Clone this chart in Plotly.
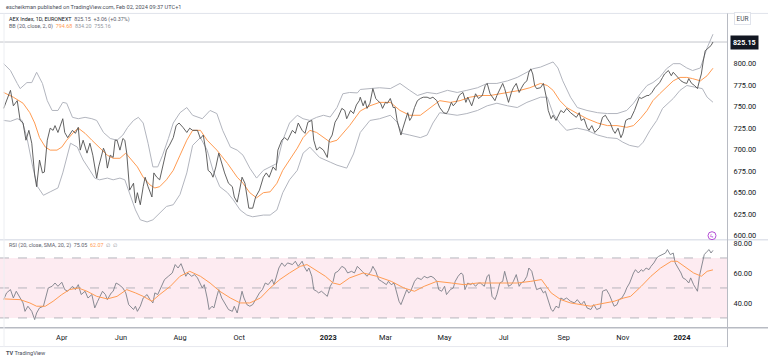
import plotly.graph_objects as go

# ---------------- DATA ----------------
close_dates = ["2022-01-31","2022-02-07","2022-02-10","2022-02-14","2022-02-17","2022-02-20","2022-02-23","2022-02-26",
"2022-03-01","2022-03-04","2022-03-06","2022-03-09","2022-03-12","2022-03-14","2022-03-17","2022-03-20","2022-03-23",
"2022-03-25","2022-03-28","2022-04-01","2022-04-02","2022-04-04","2022-04-07","2022-04-12","2022-04-15","2022-04-18",
"2022-04-20","2022-04-23","2022-04-27","2022-04-30","2022-05-03","2022-05-07","2022-05-09","2022-05-14","2022-05-16",
"2022-05-18","2022-05-21","2022-05-24","2022-05-26","2022-05-28","2022-05-31","2022-06-03","2022-06-05","2022-06-07",
"2022-06-10","2022-06-14","2022-06-16","2022-06-18","2022-06-21","2022-06-24","2022-06-26","2022-06-29","2022-07-03",
"2022-07-05","2022-07-08","2022-07-11","2022-07-14","2022-07-18","2022-07-21","2022-07-25","2022-07-28","2022-07-31",
"2022-08-04","2022-08-08","2022-08-11","2022-08-14","2022-08-19","2022-08-22","2022-08-25","2022-08-28","2022-08-30",
"2022-09-02","2022-09-04","2022-09-07","2022-09-10","2022-09-13","2022-09-16","2022-09-20","2022-09-24","2022-09-26",
"2022-09-29","2022-10-01","2022-10-04","2022-10-07","2022-10-09","2022-10-11","2022-10-15","2022-10-18","2022-10-22",
"2022-10-26","2022-10-29","2022-11-01","2022-11-05","2022-11-08","2022-11-10","2022-11-14","2022-11-17","2022-11-20",
"2022-11-25","2022-11-28","2022-12-01","2022-12-05","2022-12-08","2022-12-11","2022-12-15","2022-12-17","2022-12-20",
"2022-12-23","2022-12-27","2022-12-31","2023-01-02","2023-01-05","2023-01-08","2023-01-11","2023-01-15","2023-01-18",
"2023-01-20","2023-01-24","2023-01-27","2023-01-30","2023-02-02","2023-02-03","2023-02-06","2023-02-08","2023-02-10",
"2023-02-13","2023-02-16","2023-02-19","2023-02-21","2023-02-24","2023-02-26","2023-03-01","2023-03-03","2023-03-06",
"2023-03-09","2023-03-11","2023-03-13","2023-03-15","2023-03-17","2023-03-19","2023-03-22","2023-03-24","2023-03-26",
"2023-03-28","2023-03-31","2023-04-03","2023-04-06","2023-04-09","2023-04-13","2023-04-16","2023-04-19","2023-04-23",
"2023-04-26","2023-04-30","2023-05-03","2023-05-05","2023-05-08","2023-05-10","2023-05-13","2023-05-16","2023-05-18",
"2023-05-20","2023-05-23","2023-05-25","2023-05-29","2023-06-02","2023-06-05","2023-06-09","2023-06-12","2023-06-14",
"2023-06-17","2023-06-20","2023-06-22","2023-06-24","2023-06-27","2023-06-30","2023-07-02","2023-07-06","2023-07-09",
"2023-07-11","2023-07-14","2023-07-17","2023-07-19","2023-07-22","2023-07-25","2023-07-27","2023-07-29","2023-07-31",
"2023-08-02","2023-08-04","2023-08-08","2023-08-11","2023-08-14","2023-08-16","2023-08-19","2023-08-21","2023-08-24",
"2023-08-27","2023-08-29","2023-09-01","2023-09-04","2023-09-08","2023-09-11","2023-09-14","2023-09-17","2023-09-19",
"2023-09-22","2023-09-25","2023-09-27","2023-09-30","2023-10-03","2023-10-05","2023-10-08","2023-10-11","2023-10-14",
"2023-10-16","2023-10-19","2023-10-22","2023-10-24","2023-10-27","2023-10-30","2023-11-01","2023-11-04","2023-11-07",
"2023-11-09","2023-11-13","2023-11-16","2023-11-18","2023-11-20","2023-11-23","2023-11-26","2023-11-28","2023-12-01",
"2023-12-04","2023-12-06","2023-12-09","2023-12-12","2023-12-14","2023-12-18","2023-12-21","2023-12-23","2023-12-26",
"2023-12-29","2023-12-31","2024-01-03","2024-01-06","2024-01-08","2024-01-11","2024-01-14","2024-01-17","2024-01-19",
"2024-01-21","2024-01-23","2024-01-25","2024-01-27","2024-01-29","2024-01-31","2024-02-02"]
close_vals = [748,769,751,757,734,731,711,722.5,
707.5,670.5,657,688,673,674,711,725,722.5,
728,720,734,736,720,714,722.5,719,726,
699.5,711,696,707.5,693.6,667,680,701.7,696,
678.6,693.6,691,711,711,699.5,713,711,696,
653,661,638,650,636,657,668,657,645,
673,668,665,680,699.5,705,714,728,731,
726,720,725,722.5,722.5,713,717,696,676,
673,668,680,696,684,673,661,657,645,
639,650,668,661,645,632,632,645,653,
668,673,668,680,676,699.5,711,714,711,
722.5,719,731,722.5,719,732,734,711,699.5,
703,699.5,691,711,717,732,737.6,748,745.6,
736,745.6,742,752,757,761,751,757,748,
754,771,759.5,757,754,748,755,754,759.5,
749,749,734,725,717,725,737.6,743,734,
737.6,749,757,759.5,761,761,759.5,761,757,
749,743,742,745.6,755,751,755,763,765,
766.5,755,761,751,765,759.5,763,774.6,777,
765,759.5,757,763,771,777,771,755,766.5,
772,777,766.5,771,777,780,790,794,788,
774.6,771,772,777,761,745.6,736,740,734,
740,745.6,743,748,743,740,737.6,743,734,
736,726,722.5,728,720,722.5,726,737.6,740,
736,731,722.5,719,725,714,719,734,736,
736,745.6,755,761,759.5,761,763,763,766.5,
772,774.6,778,784,788,792,786,790,786,
782.6,780,778,777,782.6,777,774.6,771,780,
788,803,815,817,818.5,821,825.15]

bb_upper_dates = ["2022-01-31","2022-02-07","2022-02-14","2022-02-17","2022-02-24","2022-03-01","2022-03-06","2022-03-12",
"2022-03-17","2022-03-22","2022-03-28","2022-04-02","2022-04-06","2022-04-12","2022-04-18","2022-04-25","2022-05-02",
"2022-05-07","2022-05-14","2022-05-21","2022-05-28","2022-06-03","2022-06-08","2022-06-14","2022-06-19","2022-06-24",
"2022-06-29","2022-07-04","2022-07-09","2022-07-14","2022-07-20","2022-07-25","2022-08-01","2022-08-08","2022-08-14",
"2022-08-24","2022-09-01","2022-09-08","2022-09-14","2022-09-22","2022-09-29","2022-10-05","2022-10-12","2022-10-19",
"2022-10-26","2022-11-02","2022-11-09","2022-11-15","2022-11-22","2022-11-30","2022-12-06","2022-12-13","2022-12-20",
"2022-12-27","2023-01-03","2023-01-10","2023-01-16","2023-01-23","2023-01-31","2023-02-03","2023-02-13","2023-02-23",
"2023-03-06","2023-03-16","2023-03-26","2023-04-03","2023-04-13","2023-04-23","2023-05-04","2023-05-14","2023-05-24",
"2023-06-04","2023-06-14","2023-06-24","2023-07-05","2023-07-15","2023-07-25","2023-07-31","2023-08-08","2023-08-15",
"2023-08-21","2023-08-26","2023-08-31","2023-09-08","2023-09-15","2023-09-25","2023-10-06","2023-10-16","2023-10-26",
"2023-11-05","2023-11-12","2023-11-19","2023-11-26","2023-12-02","2023-12-09","2023-12-16","2023-12-23","2023-12-30",
"2024-01-06","2024-01-12","2024-01-20","2024-01-27","2024-02-02"]
bb_upper_vals = [800,792,777,771,778,778,790,777,
757,745.6,745.6,755,754,737.6,736,737.6,736,
734,720,713,711,717,726,734,737.6,731,
707.5,680,680,693.6,713,731,743,749,740,
736,745.6,742,722.5,703,699.5,693.6,678.6,667,
676,680,684,711,731,740,736,734,737.6,
740,738,749,765,766.5,766,770,771,772,
771,777,769,763,766.5,765,769,766.5,769,
772,777,777,780,784,790,794,796,799,
802,795,780,761,749,745.6,743,742,742,
745.6,754,765,774.6,778,784,794,800,800,
795,792,795,818.5,834.2]

bb_lower_dates = ["2022-01-31","2022-02-07","2022-02-14","2022-02-19","2022-02-24","2022-03-02","2022-03-07","2022-03-13",
"2022-03-20","2022-03-28","2022-04-02","2022-04-06","2022-04-10","2022-04-17","2022-04-23","2022-04-30","2022-05-05",
"2022-05-10","2022-05-18","2022-05-24","2022-05-31","2022-06-05","2022-06-10","2022-06-16","2022-06-21","2022-06-28",
"2022-07-04","2022-07-11","2022-07-18","2022-07-25","2022-08-01","2022-08-08","2022-08-14","2022-08-22","2022-08-29",
"2022-09-04","2022-09-11","2022-09-19","2022-09-25","2022-10-02","2022-10-09","2022-10-15","2022-10-26","2022-11-02",
"2022-11-09","2022-11-15","2022-11-22","2022-11-30","2022-12-06","2022-12-13","2022-12-23","2023-01-03","2023-01-10",
"2023-01-20","2023-01-27","2023-02-03","2023-02-13","2023-02-23","2023-03-06","2023-03-13","2023-03-18","2023-03-26",
"2023-04-06","2023-04-13","2023-04-19","2023-04-26","2023-05-04","2023-05-14","2023-05-24","2023-06-04","2023-06-14",
"2023-06-24","2023-07-05","2023-07-15","2023-07-25","2023-08-08","2023-08-15","2023-08-21","2023-08-28","2023-09-04",
"2023-09-15","2023-09-25","2023-10-06","2023-10-16","2023-10-26","2023-11-01","2023-11-08","2023-11-17","2023-11-22",
"2023-11-29","2023-12-06","2023-12-12","2023-12-23","2023-12-30","2024-01-06","2024-01-17","2024-01-22","2024-01-27",
"2024-02-02"]
bb_lower_vals = [734,733,736,734,714,680,657,647,
651,655.5,673,691,707.5,703,688,676,667,
665,667,665,667,665,650,630,618.5,616,
618.5,626,634,636,648,673,705,714,699.5,
676,657,650,641.6,630,624,622,624,624,
630,650,665,676,696,703,691,685.5,682,
678.6,695,720,734,736,740,732,719,717,
714,717,731,743,742,740,742,745.6,751,
754,751,749,755,761,761,742,731,722.5,
725,722.5,717,714,713,708.7,705,703,708.7,
722.5,734,748,759.5,769,774.6,772,771,761,
755.16]

bb_mid_dates = ["2022-01-31","2022-02-10","2022-02-20","2022-02-27","2022-03-04","2022-03-09","2022-03-15","2022-03-20",
"2022-03-27","2022-04-01","2022-04-06","2022-04-13","2022-04-18","2022-04-25","2022-05-02","2022-05-10","2022-05-18",
"2022-05-24","2022-05-31","2022-06-06","2022-06-12","2022-06-18","2022-06-24","2022-07-01","2022-07-06","2022-07-11",
"2022-07-18","2022-07-25","2022-08-01","2022-08-08","2022-08-14","2022-08-22","2022-08-29","2022-09-08","2022-09-19",
"2022-09-29","2022-10-05","2022-10-12","2022-10-19","2022-10-26","2022-11-02","2022-11-09","2022-11-15","2022-11-22",
"2022-11-30","2022-12-06","2022-12-13","2022-12-20","2022-12-27","2023-01-03","2023-01-10","2023-01-16","2023-01-23",
"2023-02-03","2023-02-13","2023-02-23","2023-03-06","2023-03-16","2023-03-26","2023-04-06","2023-04-16","2023-04-26",
"2023-05-07","2023-05-17","2023-05-27","2023-06-07","2023-06-17","2023-06-27","2023-07-08","2023-07-18","2023-07-28",
"2023-08-08","2023-08-15","2023-08-21","2023-08-28","2023-09-04","2023-09-15","2023-09-25","2023-10-06","2023-10-16",
"2023-10-26","2023-11-05","2023-11-12","2023-11-19","2023-11-26","2023-12-02","2023-12-09","2023-12-16","2023-12-23",
"2023-12-30","2024-01-06","2024-01-12","2024-01-20","2024-01-27","2024-02-02"]
bb_mid_vals = [766.5,761,754,743,731,714,703,699.5,
699.5,703,711,720,725,719,711,701.7,693.6,
690,690,696,688,680,668,659,655.5,657,
665,676,693.6,711,722.5,722.5,711,699.5,684,
668,661,650,644,650,651,661,676,688,
701.7,714,722.5,720,714,708.7,711,719,728,
745,751,755,755,745.6,740,740,749,757,
755,757,761,763,763,765,766.5,769,772,
777,774.6,769,757,749,742,736,731,728,
728,726,728,736,745.6,757,765,772,780,
784,784,782.6,780,786,794.68]

rsi_dates = ["2022-01-31","2022-02-03","2022-02-07","2022-02-10","2022-02-13","2022-02-16","2022-02-20","2022-02-22",
"2022-02-25","2022-03-01","2022-03-04","2022-03-06","2022-03-09","2022-03-13","2022-03-15","2022-03-18","2022-03-22",
"2022-03-25","2022-03-28","2022-04-01","2022-04-04","2022-04-07","2022-04-12","2022-04-15","2022-04-18","2022-04-21",
"2022-04-25","2022-04-28","2022-05-02","2022-05-05","2022-05-08","2022-05-13","2022-05-16","2022-05-18","2022-05-22",
"2022-05-24","2022-05-27","2022-05-30","2022-06-03","2022-06-06","2022-06-09","2022-06-14","2022-06-16","2022-06-18",
"2022-06-21","2022-06-24","2022-06-28","2022-07-01","2022-07-04","2022-07-06","2022-07-09","2022-07-13","2022-07-16",
"2022-07-20","2022-07-24","2022-07-27","2022-07-30","2022-08-02","2022-08-04","2022-08-07","2022-08-09","2022-08-13",
"2022-08-16","2022-08-19","2022-08-24","2022-08-26","2022-08-29","2022-08-31","2022-09-03","2022-09-05","2022-09-08",
"2022-09-10","2022-09-13","2022-09-16","2022-09-20","2022-09-24","2022-09-26","2022-09-29","2022-10-01","2022-10-04",
"2022-10-06","2022-10-09","2022-10-12","2022-10-15","2022-10-18","2022-10-22","2022-10-25","2022-10-28","2022-10-31",
"2022-11-04","2022-11-06","2022-11-09","2022-11-11","2022-11-14","2022-11-17","2022-11-20","2022-11-25","2022-11-28",
"2022-12-01","2022-12-05","2022-12-07","2022-12-10","2022-12-12","2022-12-15","2022-12-17","2022-12-20","2022-12-22",
"2022-12-25","2022-12-29","2022-12-31","2023-01-03","2023-01-06","2023-01-08","2023-01-11","2023-01-15","2023-01-18",
"2023-01-21","2023-01-25","2023-01-28","2023-01-31","2023-02-05","2023-02-07","2023-02-10","2023-02-14","2023-02-16",
"2023-02-19","2023-02-22","2023-02-25","2023-03-02","2023-03-04","2023-03-07","2023-03-10","2023-03-13","2023-03-15",
"2023-03-17","2023-03-20","2023-03-23","2023-03-25","2023-03-27","2023-03-31","2023-04-03","2023-04-07","2023-04-10",
"2023-04-13","2023-04-17","2023-04-20","2023-04-23","2023-04-25","2023-04-28","2023-05-01","2023-05-03","2023-05-07",
"2023-05-10","2023-05-12","2023-05-15","2023-05-18","2023-05-20","2023-05-22","2023-05-25","2023-05-28","2023-05-30",
"2023-06-02","2023-06-05","2023-06-07","2023-06-11","2023-06-14","2023-06-16","2023-06-19","2023-06-22","2023-06-24",
"2023-06-27","2023-06-30","2023-07-02","2023-07-06","2023-07-09","2023-07-11","2023-07-14","2023-07-17","2023-07-19",
"2023-07-22","2023-07-25","2023-07-27","2023-07-30","2023-08-02","2023-08-04","2023-08-08","2023-08-11","2023-08-13",
"2023-08-16","2023-08-19","2023-08-21","2023-08-24","2023-08-27","2023-08-29","2023-09-01","2023-09-04","2023-09-08",
"2023-09-12","2023-09-15","2023-09-19","2023-09-22","2023-09-25","2023-09-29","2023-10-02","2023-10-05","2023-10-09",
"2023-10-11","2023-10-15","2023-10-18","2023-10-20","2023-10-23","2023-10-26","2023-10-28","2023-10-31","2023-11-03",
"2023-11-05","2023-11-08","2023-11-12","2023-11-14","2023-11-17","2023-11-20","2023-11-22","2023-11-25","2023-11-28",
"2023-11-30","2023-12-03","2023-12-06","2023-12-08","2023-12-11","2023-12-15","2023-12-17","2023-12-20","2023-12-23",
"2023-12-25","2023-12-28","2023-12-31","2024-01-02","2024-01-05","2024-01-08","2024-01-10","2024-01-13","2024-01-17",
"2024-01-19","2024-01-22","2024-01-24","2024-01-27","2024-01-29","2024-01-31","2024-02-02"]
rsi_vals = [42.2,46.7,48.9,43.3,47.8,44.4,40,34.4,
37.8,34.4,28.9,33.3,36.7,37.8,43.3,50,51.1,
53.3,51.1,53.8,48.9,47.8,51.1,48.9,52.2,45.6,
47.8,43.3,45.6,36.7,41.1,47.8,45.6,42.2,46.7,
47.8,53.3,52.2,50,46.7,38.9,35.6,37.8,34.4,
37.8,43.3,45.6,42.2,40,46.7,45.6,51.1,55.6,
57.8,60,65.6,63.3,66.2,63.3,57.8,60,57.8,
58.9,56.7,50,52.2,43.3,35.6,37.8,36.7,44.4,
48.9,43.3,40,35.6,34.4,37.8,33.3,40,47.8,
43.3,38.9,37.8,38.9,42.2,46.7,48.9,53.3,52.2,
55.6,52.2,60,63.3,66.7,64.4,66.7,65.6,67.8,
64.4,67.8,64.4,61.1,63.3,57.8,48.9,47.8,46.7,
47.8,45.6,44.4,51.1,54.4,60,61.1,64.4,63.3,
60,61.1,60,64.4,61.1,60,57.8,61.1,64.4,
61.1,55.6,54.4,52.2,54.4,52.2,53.3,45.6,41.1,
38.9,43.3,48.9,46.7,47.8,54.4,56.7,55.6,57.8,
56.7,57.8,56.7,54.4,48.9,47.8,51.1,45.6,48.9,
50,54.4,57.8,60,58.9,48.9,53.3,52.2,53.3,
51.1,53.3,53.3,51.1,57.8,58.9,44.4,42.2,45.6,
53.3,54.4,61.1,51.1,52.2,54.4,58.9,51.1,53.3,
54.4,57.8,63.3,61.1,53.3,48.9,50,46.7,47.8,
41.1,35.6,34.4,37.8,36.7,43.3,42.2,43.3,41.1,
40,42.2,38.9,41.1,36.7,35.6,38.9,35.6,36.7,
47.8,48.9,45.6,42.2,37.8,38.9,42.2,43.3,46.7,
50,53.3,60,62.2,60,62.2,61.1,63.3,62.2,
64.4,66.7,70,71.1,72.2,73.3,75.6,72.2,73.3,
66.7,63.3,60,56.7,55.6,53.3,56.7,52.2,47.8,
57.8,65.6,72.2,74.4,75.6,73.3,75.05]

rsi_ma_dates = ["2022-01-31","2022-02-10","2022-02-17","2022-02-27","2022-03-06","2022-03-15","2022-03-23","2022-04-01",
"2022-04-09","2022-04-18","2022-04-27","2022-05-07","2022-05-18","2022-05-28","2022-06-07","2022-06-16","2022-06-24",
"2022-07-03","2022-07-11","2022-07-22","2022-08-01","2022-08-11","2022-08-22","2022-09-01","2022-09-11","2022-09-22",
"2022-10-02","2022-10-12","2022-10-23","2022-11-02","2022-11-12","2022-11-22","2022-12-03","2022-12-10","2022-12-18",
"2022-12-29","2023-01-06","2023-01-13","2023-01-23","2023-02-06","2023-02-20","2023-03-07","2023-03-20","2023-03-31",
"2023-04-10","2023-04-23","2023-05-08","2023-05-21","2023-06-04","2023-06-18","2023-07-01","2023-07-15","2023-07-29",
"2023-08-09","2023-08-19","2023-08-29","2023-09-08","2023-09-19","2023-09-29","2023-10-05","2023-10-13","2023-10-23",
"2023-11-02","2023-11-09","2023-11-20","2023-11-30","2023-12-10","2023-12-21","2023-12-27","2024-01-03","2024-01-13",
"2024-01-21","2024-01-27","2024-02-02"]
rsi_ma_vals = [42.7,42.7,42.2,40,37.8,37.8,41.1,45.6,
48.9,50,47.8,44.4,42.7,44.4,48.9,46.7,44.4,
41.1,45.6,51.1,57.8,61.1,57.8,53.3,47.8,43.3,
40,40,43.3,50,55.6,60,64.4,65.6,62.2,
57.8,53.3,52.2,56.7,60,57.8,54.4,50,47.8,
51.1,54.4,53.3,52.2,53.3,53.3,53.3,53.3,54.4,
55.6,46.7,42.2,40,38.9,37.8,38.9,40,41.1,
43.3,44.4,51.1,57.8,63.3,67.8,67.8,64.4,60,
57.8,61.1,62.07]

x_tick_dates = ["2022-04-01","2022-06-01","2022-08-01","2022-10-01","2023-01-01","2023-03-01",
                "2023-05-01","2023-07-01","2023-09-01","2023-11-01","2024-01-01"]
x_tick_text = ["Apr","Jun","Aug","Oct","<b>2023</b>","Mar","May","Jul","Sep","Nov","<b>2024</b>"]
price_ticks = [600,625,650,675,700,725,750,775,800]
rsi_ticks = [40,60,80]
last_price = 825.15

# ---------------- STYLE ----------------
W, H = 768, 362
FONT = "Roboto, Liberation Sans, Arial"
TXT = "#131722"
GRAY_BAND = "#b2b5be"
ORANGE = "#ff9b52"
AXR = 727.5 / W          # right edge of plotting area (paper)

def py(p):  # pixel row -> paper y
    return 1 - p / H

fig = go.Figure()
fig.add_trace(go.Scatter(x=bb_upper_dates, y=bb_upper_vals, mode="lines",
                         line=dict(color=GRAY_BAND, width=1), yaxis="y", hoverinfo="skip"))
fig.add_trace(go.Scatter(x=bb_lower_dates, y=bb_lower_vals, mode="lines",
                         line=dict(color=GRAY_BAND, width=1), yaxis="y", hoverinfo="skip"))
fig.add_trace(go.Scatter(x=bb_mid_dates, y=bb_mid_vals, mode="lines",
                         line=dict(color=ORANGE, width=1), yaxis="y"))
fig.add_trace(go.Scatter(x=close_dates, y=close_vals, mode="lines",
                         line=dict(color="#505050", width=0.9), yaxis="y"))
fig.add_trace(go.Scatter(x=rsi_dates, y=rsi_vals, mode="lines",
                         line=dict(color="#7c7f88", width=0.9), yaxis="y2"))
fig.add_trace(go.Scatter(x=rsi_ma_dates, y=rsi_ma_vals, mode="lines",
                         line=dict(color=ORANGE, width=1), yaxis="y2"))

shapes = []
# RSI background band and levels
shapes.append(dict(type="rect", xref="x domain", yref="y2", x0=0, x1=1, y0=30, y1=70,
                   fillcolor="#fdebf1", line=dict(width=0), layer="below"))
for lv in (70, 50, 30):
    shapes.append(dict(type="line", xref="x domain", yref="y2", x0=0, x1=1, y0=lv, y1=lv,
                       line=dict(color="#a3a6af", width=0.8, dash="dash"), layer="below"))
# last price line
shapes.append(dict(type="line", xref="x domain", yref="y", x0=0, x1=1, y0=last_price, y1=last_price,
                   line=dict(color="#c4c6cc", width=1), layer="below"))
# frame lines
shapes.append(dict(type="line", xref="paper", yref="paper", x0=0, x1=1, y0=py(12.5), y1=py(12.5),
                   line=dict(color="#e0e3eb", width=1)))
shapes.append(dict(type="line", xref="paper", yref="paper", x0=0, x1=1, y0=py(240), y1=py(240),
                   line=dict(color="#e0e3eb", width=1.5)))
shapes.append(dict(type="line", xref="paper", yref="paper", x0=0, x1=1, y0=py(328.5), y1=py(328.5),
                   line=dict(color="#b8bbc3", width=1.5)))
shapes.append(dict(type="line", xref="paper", yref="paper", x0=0, x1=AXR, y0=py(347.5), y1=py(347.5),
                   line=dict(color="#e6e8ee", width=1)))
shapes.append(dict(type="line", xref="paper", yref="paper", x0=AXR, x1=AXR, y0=py(12.5), y1=py(348),
                   line=dict(color="#b8bbc3", width=1)))
shapes.append(dict(type="line", xref="paper", yref="paper", x0=4 / W, x1=4 / W, y0=py(12.5), y1=py(348),
                   line=dict(color="#eceef2", width=1)))
# purple alert circle
shapes.append(dict(type="circle", xref="paper", yref="paper", x0=708 / W, x1=716 / W,
                   y0=py(240), y1=py(232), line=dict(color="#b44fd6", width=1)))

ann = []
def text(x, y, s, size=5.6, color=TXT, xanchor="left", **kw):
    ann.append(dict(xref="paper", yref="paper", x=x / W, y=py(y), text=s, showarrow=False,
                    xanchor=xanchor, yanchor="middle", font=dict(family=FONT, size=size, color=color), **kw))

text(4, 6, "escheikman published on TradingView.com, Feb 02, 2024 09:37 UTC+1", size=5.6, color="#4a4e59")
text(7, 18.5, "AEX Index, 1D, EURONEXT&nbsp;&nbsp;<span style='color:#5d606b'>825.15&nbsp;&nbsp;+3.06 (+0.37%)</span>",
     size=5.4)
text(7, 25.5, "BB (20, close, 2, 0)&nbsp;&nbsp;<span style='color:#ff9b52'>794.68</span>&nbsp;&nbsp;"
     "<span style='color:#9598a1'>834.20&nbsp;&nbsp;755.16</span>", size=5.4, color="#5d606b")
text(7, 246, "RSI (20, close, SMA, 20, 2)&nbsp;&nbsp;<span style='color:#5d606b'>75.05</span>&nbsp;&nbsp;"
     "<span style='color:#ff9b52'>62.07</span>&nbsp;&nbsp;<span style='color:#9598a1'>∅&nbsp;&nbsp;∅</span>",
     size=5.4, color="#5d606b")
text(734, 17.5, "EUR", size=6.5, color="#4a4e59", bordercolor="#e0e3eb", borderwidth=1, borderpad=1.5,
     bgcolor="white")
ann.append(dict(xref="paper", yref="y", x=729.5 / W, y=last_price, text="<b>825.15</b>", showarrow=False,
                xanchor="left", yanchor="middle", bgcolor="#131722", borderpad=2,
                font=dict(family=FONT, size=7.2, color="white")))
text(712, 236, "ϟ", size=6, color="#b44fd6", xanchor="center")
text(4, 354, "<b>TV</b> TradingView", size=5.6, color="#4a4e59")

fig.update_layout(
    width=W, height=H, margin=dict(l=0, r=0, t=0, b=0),
    paper_bgcolor="white", plot_bgcolor="white", showlegend=False,
    font=dict(family=FONT, color=TXT),
    xaxis=dict(domain=[0, AXR], range=["2022-01-27 05:00", "2024-02-17"], anchor="y2",
               showgrid=False, zeroline=False, showline=False, ticks="",
               tickvals=x_tick_dates, ticktext=x_tick_text, tickangle=0,
               tickfont=dict(size=7.4, color=TXT, family=FONT), ticklabelstandoff=4),
    yaxis=dict(domain=[py(240), py(13)], range=[595.4, 857.8], anchor="free", position=AXR,
               side="right", showgrid=False, zeroline=False, showline=False, ticks="",
               tickvals=price_ticks, tickformat=".2f",
               tickfont=dict(size=7.4, color=TXT, family=FONT), ticklabelstandoff=5),
    yaxis2=dict(domain=[py(328.5), py(240)], range=[23.5, 82.2], anchor="free", position=AXR,
                side="right", showgrid=False, zeroline=False, showline=False, ticks="",
                tickvals=rsi_ticks, tickformat=".2f",
                tickfont=dict(size=7.4, color=TXT, family=FONT), ticklabelstandoff=5),
    shapes=shapes, annotations=ann,
)

fig.write_html("out.html", config={"displayModeBar": False},
               post_script="document.body.style.margin='0';document.body.style.overflow='hidden';")
